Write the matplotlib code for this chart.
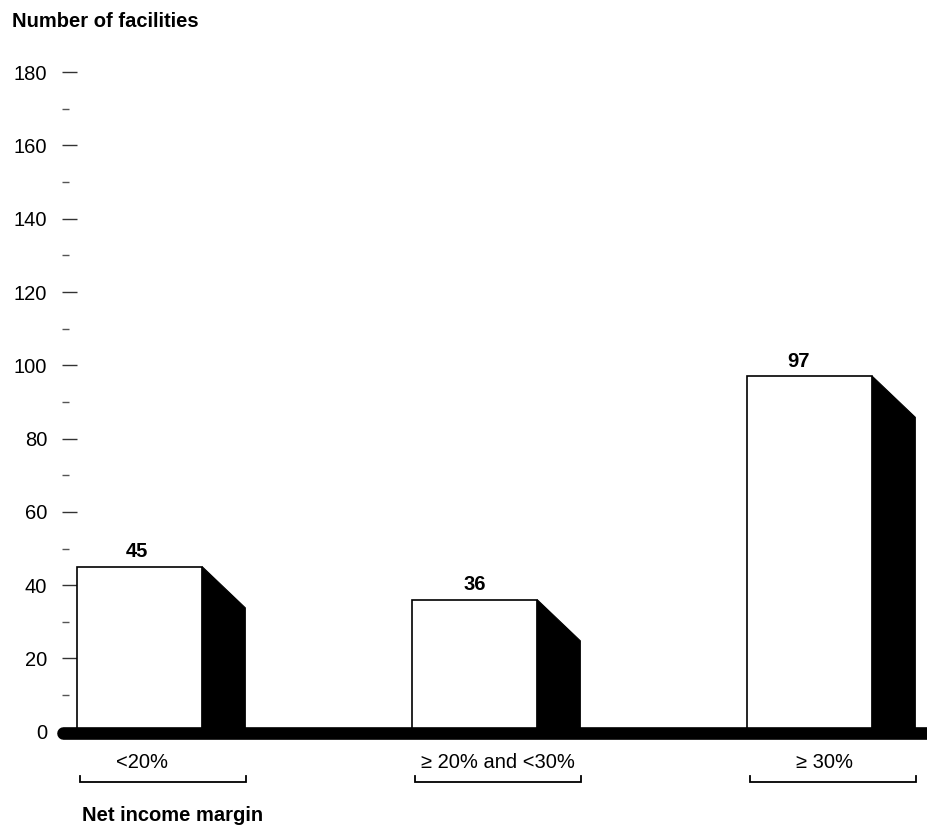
import matplotlib
matplotlib.use("Agg")
import matplotlib.pyplot as plt
from matplotlib.patches import Polygon, Rectangle
from matplotlib.ticker import MultipleLocator

plt.rcParams['font.family'] = ['Liberation Sans', 'DejaVu Sans']

# ---- data ----
categories = ["<20%", "\u2265 20% and <30%", "\u2265 30%"]
values = [45, 36, 97]
y_label = "Number of facilities"
x_label = "Net income margin"
y_max = 180
y_major = 20
y_minor = 10

# ---- layout (pixels) ----
W, H = 927, 825
DPI = 100
ax_left_px, ax_right_px = 62, 927
y0_px, ytop_px = 731.7, 72.2
px_per_cat = 335.0
front_w_px = 125.3
depth_x_px, depth_y_px = 43.0, 41.0
label_dx_px = [-21, 0, -9]
value_dx_px = [-3, 0, -11]

fig = plt.figure(figsize=(W / DPI, H / DPI), dpi=DPI)
ax = fig.add_axes([ax_left_px / W, (H - y0_px) / H,
                   (ax_right_px - ax_left_px) / W, (y0_px - ytop_px) / H])

px_per_unit = (y0_px - ytop_px) / y_max
front_center0 = ax_left_px + 15 + front_w_px / 2  # first bar front centre in px
xmin = (ax_left_px - front_center0) / px_per_cat
xmax = (ax_right_px - front_center0) / px_per_cat
ax.set_xlim(xmin, xmax)
ax.set_ylim(0, y_max)

w = front_w_px / px_per_cat
dx = depth_x_px / px_per_cat
dy = depth_y_px / px_per_unit

for i, v in enumerate(values):
    left = i - w / 2
    right = i + w / 2
    ax.add_patch(Rectangle((left, 0), w, v, facecolor='white',
                           edgecolor='black', linewidth=1.2, zorder=3))
    ax.add_patch(Polygon([(right, v), (right + dx, v - dy), (right + dx, 0), (right, 0)],
                         closed=True, facecolor='black', edgecolor='black',
                         linewidth=0.8, zorder=3))
    ax.annotate(str(v), xy=(i, v), xytext=(value_dx_px[i] * 0.72, 4),
                textcoords='offset points',
                ha='center', va='bottom', fontsize=14.5, fontweight='bold', zorder=4)
    # bracket under category
    bl = left + 3 / px_per_cat
    br = right + dx + 1 / px_per_cat
    yb = -(781.7 - y0_px) / px_per_unit
    yt = -(776 - y0_px) / px_per_unit
    ax.plot([bl, bl, br, br], [yt, yb, yb, yt], color='black', lw=1.3,
            clip_on=False, solid_joinstyle='miter', zorder=3)
    # category label
    ax.text((bl + br) / 2 + label_dx_px[i] / px_per_cat,
            -(762.5 - y0_px) / px_per_unit, categories[i],
            ha='center', va='center', fontsize=14.5, clip_on=False)

# thick baseline
base_y = -(733 - y0_px) / px_per_unit
ax.plot([(63 - front_center0) / px_per_cat, xmax + 0.2], [base_y, base_y],
        color='black', lw=9.1, solid_capstyle='round', clip_on=False, zorder=5)

for s in ax.spines.values():
    s.set_visible(False)
ax.set_xticks([])
ax.yaxis.set_major_locator(MultipleLocator(y_major))
ax.yaxis.set_minor_locator(MultipleLocator(y_minor))
ax.tick_params(axis='y', which='major', direction='in', length=10.8, width=1.0,
               color='#333333', pad=10.8, labelsize=14.5)
ax.tick_params(axis='y', which='minor', direction='in', length=5, width=1.0,
               color='#555555')

fig.text(12 / W, (H - 27) / H, y_label, fontsize=14.5, fontweight='bold',
         ha='left', va='baseline')
fig.text(82 / W, (H - 821) / H, x_label, fontsize=14.5, fontweight='bold',
         ha='left', va='baseline')

fig.savefig("out.png", dpi=DPI)
